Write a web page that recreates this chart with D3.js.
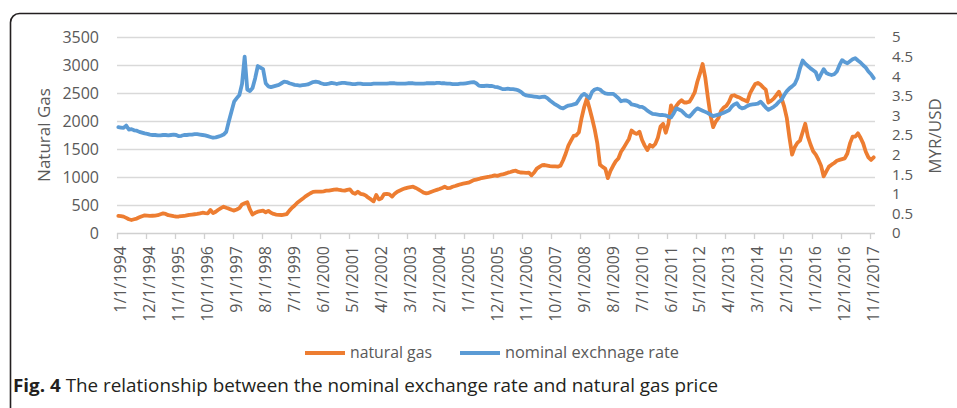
<!DOCTYPE html>
<html><head><meta charset="utf-8">
<script src="https://cdn.jsdelivr.net/npm/d3@7"></script>
<style>
body{margin:0;background:#fff}
svg{display:block}
text{font-family:"Open Sans",sans-serif}
</style>
</head><body>
<svg id="c" width="957" height="408"></svg>
<script>
// ---- DATA ----
const seriesNames = ["natural gas", "nominal exchnage rate"];
const leftTicks = [0,500,1000,1500,2000,2500,3000,3500];
const rightTicks = [0,0.5,1,1.5,2,2.5,3,3.5,4,4.5,5];
const xTickLabels = ["1/1/1994","12/1/1994","11/1/1995","10/1/1996","9/1/1997","8/1/1998","7/1/1999","6/1/2000","5/1/2001","4/1/2002","3/1/2003","2/1/2004","1/1/2005","12/1/2005","11/1/2006","10/1/2007","9/1/2008","8/1/2009","7/1/2010","6/1/2011","5/1/2012","4/1/2013","3/1/2014","2/1/2015","1/1/2016","12/1/2016","11/1/2017"];

// monthly categories 1/1/1994 ... 12/1/2017
const categories = [];
for (let y = 1994; y <= 2017; y++) for (let m = 1; m <= 12; m++) categories.push(m + "/1/" + y);

const naturalGas = [
 304,300,292,270,245,232,245,258,280,300,315,310,          // 1994
 305,308,312,318,335,350,340,318,310,300,292,295,          // 1995
 300,304,315,325,330,335,340,350,362,355,350,411,          // 1996
 355,380,415,445,470,450,435,415,400,420,445,510,          // 1997
 530,550,420,330,360,381,390,399,370,395,360,340,          // 1998
 330,322,321,330,339,400,450,490,540,575,610,650,          // 1999
 680,710,735,740,740,738,745,755,756,765,775,780,          // 2000
 768,760,756,770,780,720,700,738,700,690,670,630,          // 2001
 600,565,679,600,620,696,700,690,650,700,738,760,          // 2002
 780,798,810,820,827,805,780,750,720,708,718,738,          // 2003
 755,770,785,805,827,800,805,825,839,855,870,880,          // 2004
 890,899,920,945,955,965,982,990,998,1005,1015,1030,       // 2005
 1020,1036,1045,1060,1077,1090,1105,1113,1090,1080,1077,1075, // 2006
 1077,1030,1080,1150,1180,1210,1214,1205,1196,1190,1188,1185, // 2007
 1200,1300,1420,1560,1650,1735,1745,1800,2050,2250,2400,2230, // 2008
 2050,1850,1600,1220,1180,1150,980,1110,1200,1280,1330,1450,  // 2009
 1520,1600,1680,1830,1790,1770,1809,1661,1560,1482,1571,1540, // 2010
 1590,1700,1900,1950,1790,1950,2280,2170,2270,2330,2370,2330, // 2011
 2330,2345,2420,2510,2700,2850,3018,2780,2420,2100,1890,1990, // 2012
 2050,2180,2240,2270,2340,2450,2460,2435,2420,2390,2370,2345, // 2013
 2494,2580,2660,2680,2650,2600,2560,2330,2360,2400,2460,2523, // 2014
 2405,2256,2050,1700,1400,1530,1610,1650,1800,1950,1720,1580, // 2015
 1460,1400,1310,1200,1010,1100,1185,1220,1250,1290,1305,1320, // 2016
 1333,1420,1600,1720,1720,1780,1700,1600,1450,1350,1304,1351  // 2017
];

const exchangeRate = [
 2.70,2.69,2.68,2.74,2.64,2.65,2.62,2.61,2.58,2.56,2.54,2.53, // 1994
 2.51,2.50,2.50,2.49,2.49,2.50,2.50,2.49,2.50,2.51,2.50,2.47, // 1995
 2.48,2.50,2.50,2.51,2.51,2.52,2.52,2.51,2.50,2.49,2.47,2.45, // 1996
 2.43,2.44,2.46,2.48,2.51,2.58,2.85,3.10,3.35,3.44,3.52,3.80, // 1997
 4.50,3.66,3.62,3.70,3.95,4.26,4.22,4.18,3.82,3.74,3.72,3.74, // 1998
 3.76,3.78,3.82,3.86,3.85,3.82,3.80,3.78,3.77,3.76,3.77,3.78, // 1999
 3.79,3.82,3.85,3.86,3.85,3.82,3.80,3.80,3.81,3.83,3.82,3.80, // 2000
 3.82,3.83,3.83,3.82,3.81,3.80,3.80,3.81,3.81,3.80,3.80,3.80, // 2001
 3.80,3.81,3.81,3.81,3.81,3.81,3.81,3.82,3.82,3.82,3.81,3.81, // 2002
 3.81,3.81,3.82,3.82,3.82,3.81,3.81,3.81,3.81,3.82,3.82,3.82, // 2003
 3.82,3.83,3.83,3.82,3.82,3.81,3.81,3.80,3.80,3.80,3.81,3.81, // 2004
 3.82,3.83,3.84,3.85,3.82,3.76,3.75,3.75,3.76,3.75,3.75,3.73, // 2005
 3.72,3.70,3.67,3.67,3.68,3.67,3.67,3.66,3.64,3.60,3.54,3.51, // 2006
 3.50,3.49,3.48,3.47,3.46,3.47,3.48,3.44,3.38,3.33,3.28,3.24, // 2007
 3.20,3.18,3.22,3.25,3.26,3.28,3.30,3.40,3.50,3.55,3.50,3.44, // 2008
 3.60,3.66,3.68,3.66,3.60,3.56,3.55,3.55,3.55,3.50,3.44,3.36, // 2009
 3.38,3.38,3.35,3.28,3.27,3.25,3.22,3.22,3.18,3.12,3.08,3.04, // 2010
 3.03,3.02,3.01,3.01,3.00,2.97,2.95,3.05,3.18,3.15,3.12,3.05, // 2011
 2.99,2.97,3.04,3.12,3.18,3.15,3.12,3.09,3.06,3.02,2.98,3.00, // 2012
 3.02,3.04,3.07,3.10,3.13,3.22,3.28,3.31,3.22,3.18,3.20,3.24, // 2013
 3.27,3.28,3.29,3.30,3.35,3.28,3.20,3.14,3.18,3.22,3.27,3.35, // 2014
 3.40,3.52,3.62,3.69,3.74,3.80,3.95,4.20,4.40,4.32,4.26,4.20, // 2015
 4.15,4.10,3.92,4.05,4.18,4.08,4.05,4.03,4.05,4.12,4.28,4.41, // 2016
 4.36,4.33,4.38,4.43,4.46,4.40,4.35,4.28,4.22,4.12,4.05,3.95  // 2017
];

const colors = ["#ED7D31", "#5B9BD5"];

// ---- CHART ----
const svg = d3.select("#c");
const plot = {left: 117, right: 875, top: 37, bottom: 233};

// outer frame
svg.append("rect").attr("x", 10.5).attr("y", 13.5).attr("width", 1000).attr("height", 500)
  .attr("rx", 9).attr("fill", "none").attr("stroke", "#231f20").attr("stroke-width", 1.6);

const x = d3.scaleBand().domain(d3.range(categories.length)).range([plot.left, plot.right]).padding(0);
const cx = i => x(i) + x.bandwidth() / 2;
const yL = d3.scaleLinear().domain([0, 3500]).range([plot.bottom, plot.top]);
const yR = d3.scaleLinear().domain([0, 5]).range([plot.bottom, plot.top]);

// gridlines
svg.append("g").selectAll("line").data(leftTicks.filter(d => d > 0)).join("line")
  .attr("x1", plot.left).attr("x2", plot.right)
  .attr("y1", d => Math.round(yL(d)) + 0.5).attr("y2", d => Math.round(yL(d)) + 0.5)
  .attr("stroke", "#d9d9d9").attr("stroke-width", 1.3);

// left axis
const gL = svg.append("g").attr("transform", `translate(${plot.left},0)`)
  .call(d3.axisLeft(yL).tickValues(leftTicks).tickSize(0).tickPadding(18).tickFormat(d3.format("d")));
gL.select(".domain").remove();
gL.selectAll("text").attr("font-size", 16).attr("fill", "#595959").attr("font-family", "Open Sans");

// right axis
const gR = svg.append("g").attr("transform", `translate(${plot.right},0)`)
  .call(d3.axisRight(yR).tickValues(rightTicks).tickSize(0).tickPadding(17).tickFormat(d => String(d)));
gR.select(".domain").remove();
gR.selectAll("text").attr("font-size", 15).attr("fill", "#595959").attr("font-family", "Open Sans");

// bottom axis line + tick marks
const tickIdx = xTickLabels.map(l => categories.indexOf(l));
const gB = svg.append("g");
gB.append("line").attr("x1", plot.left).attr("x2", plot.right)
  .attr("y1", plot.bottom + 0.5).attr("y2", plot.bottom + 0.5)
  .attr("stroke", "#d0d0d0").attr("stroke-width", 1.3);
gB.selectAll("line.tk").data(tickIdx).join("line").attr("class", "tk")
  .attr("x1", i => Math.round(x(i)) + 0.5).attr("x2", i => Math.round(x(i)) + 0.5)
  .attr("y1", plot.bottom).attr("y2", plot.bottom + 6)
  .attr("stroke", "#d0d0d0").attr("stroke-width", 1.3);
gB.selectAll("text").data(xTickLabels).join("text")
  .attr("transform", (d, k) => `translate(${cx(tickIdx[k]) + 2.5},${plot.bottom + 13}) rotate(-90)`)
  .attr("text-anchor", "end").attr("dy", "0.35em")
  .attr("font-size", 16).attr("fill", "#595959").text(d => d);

// axis titles
svg.append("text").attr("transform", `translate(44,135) rotate(-90)`)
  .attr("text-anchor", "middle").attr("dy", "0.35em").attr("font-size", 17).attr("fill", "#595959")
  .text("Natural Gas");
svg.append("text").attr("transform", `translate(935,136) rotate(-90)`)
  .attr("text-anchor", "middle").attr("dy", "0.35em").attr("font-size", 17).attr("fill", "#595959")
  .text("MYR/USD");

// lines
const lineL = d3.line().x((d, i) => cx(i)).y(d => yL(d)).curve(d3.curveLinear);
const lineR = d3.line().x((d, i) => cx(i)).y(d => yR(d)).curve(d3.curveLinear);
svg.append("path").datum(naturalGas).attr("d", lineL).attr("fill", "none")
  .attr("stroke", colors[0]).attr("stroke-width", 3.8).attr("stroke-linejoin", "round").attr("stroke-linecap", "round");
svg.append("path").datum(exchangeRate).attr("d", lineR).attr("fill", "none")
  .attr("stroke", colors[1]).attr("stroke-width", 3.8).attr("stroke-linejoin", "round").attr("stroke-linecap", "round");

// legend
const legend = [{x: 305, name: seriesNames[0], c: colors[0], w: 82}, {x: 460, name: seriesNames[1], c: colors[1], w: 174}];
const lg = svg.append("g");
legend.forEach(l => {
  lg.append("line").attr("x1", l.x).attr("x2", l.x + 40).attr("y1", 353).attr("y2", 353)
    .attr("stroke", l.c).attr("stroke-width", 4);
  lg.append("text").attr("x", l.x + 45).attr("y", 353).attr("dy", "0.35em")
    .attr("font-size", 15.5).attr("fill", "#595959")
    .attr("textLength", l.w).attr("lengthAdjust", "spacingAndGlyphs").text(l.name);
});

// caption
const cap = svg.append("text").attr("x", 13).attr("y", 392).attr("font-size", 18).attr("fill", "#231f20")
  .attr("textLength", 705).attr("lengthAdjust", "spacingAndGlyphs");
cap.append("tspan").attr("font-weight", "bold").text("Fig. 4");
cap.append("tspan").text(" The relationship between the nominal exchange rate and natural gas price");
</script>
</body></html>
